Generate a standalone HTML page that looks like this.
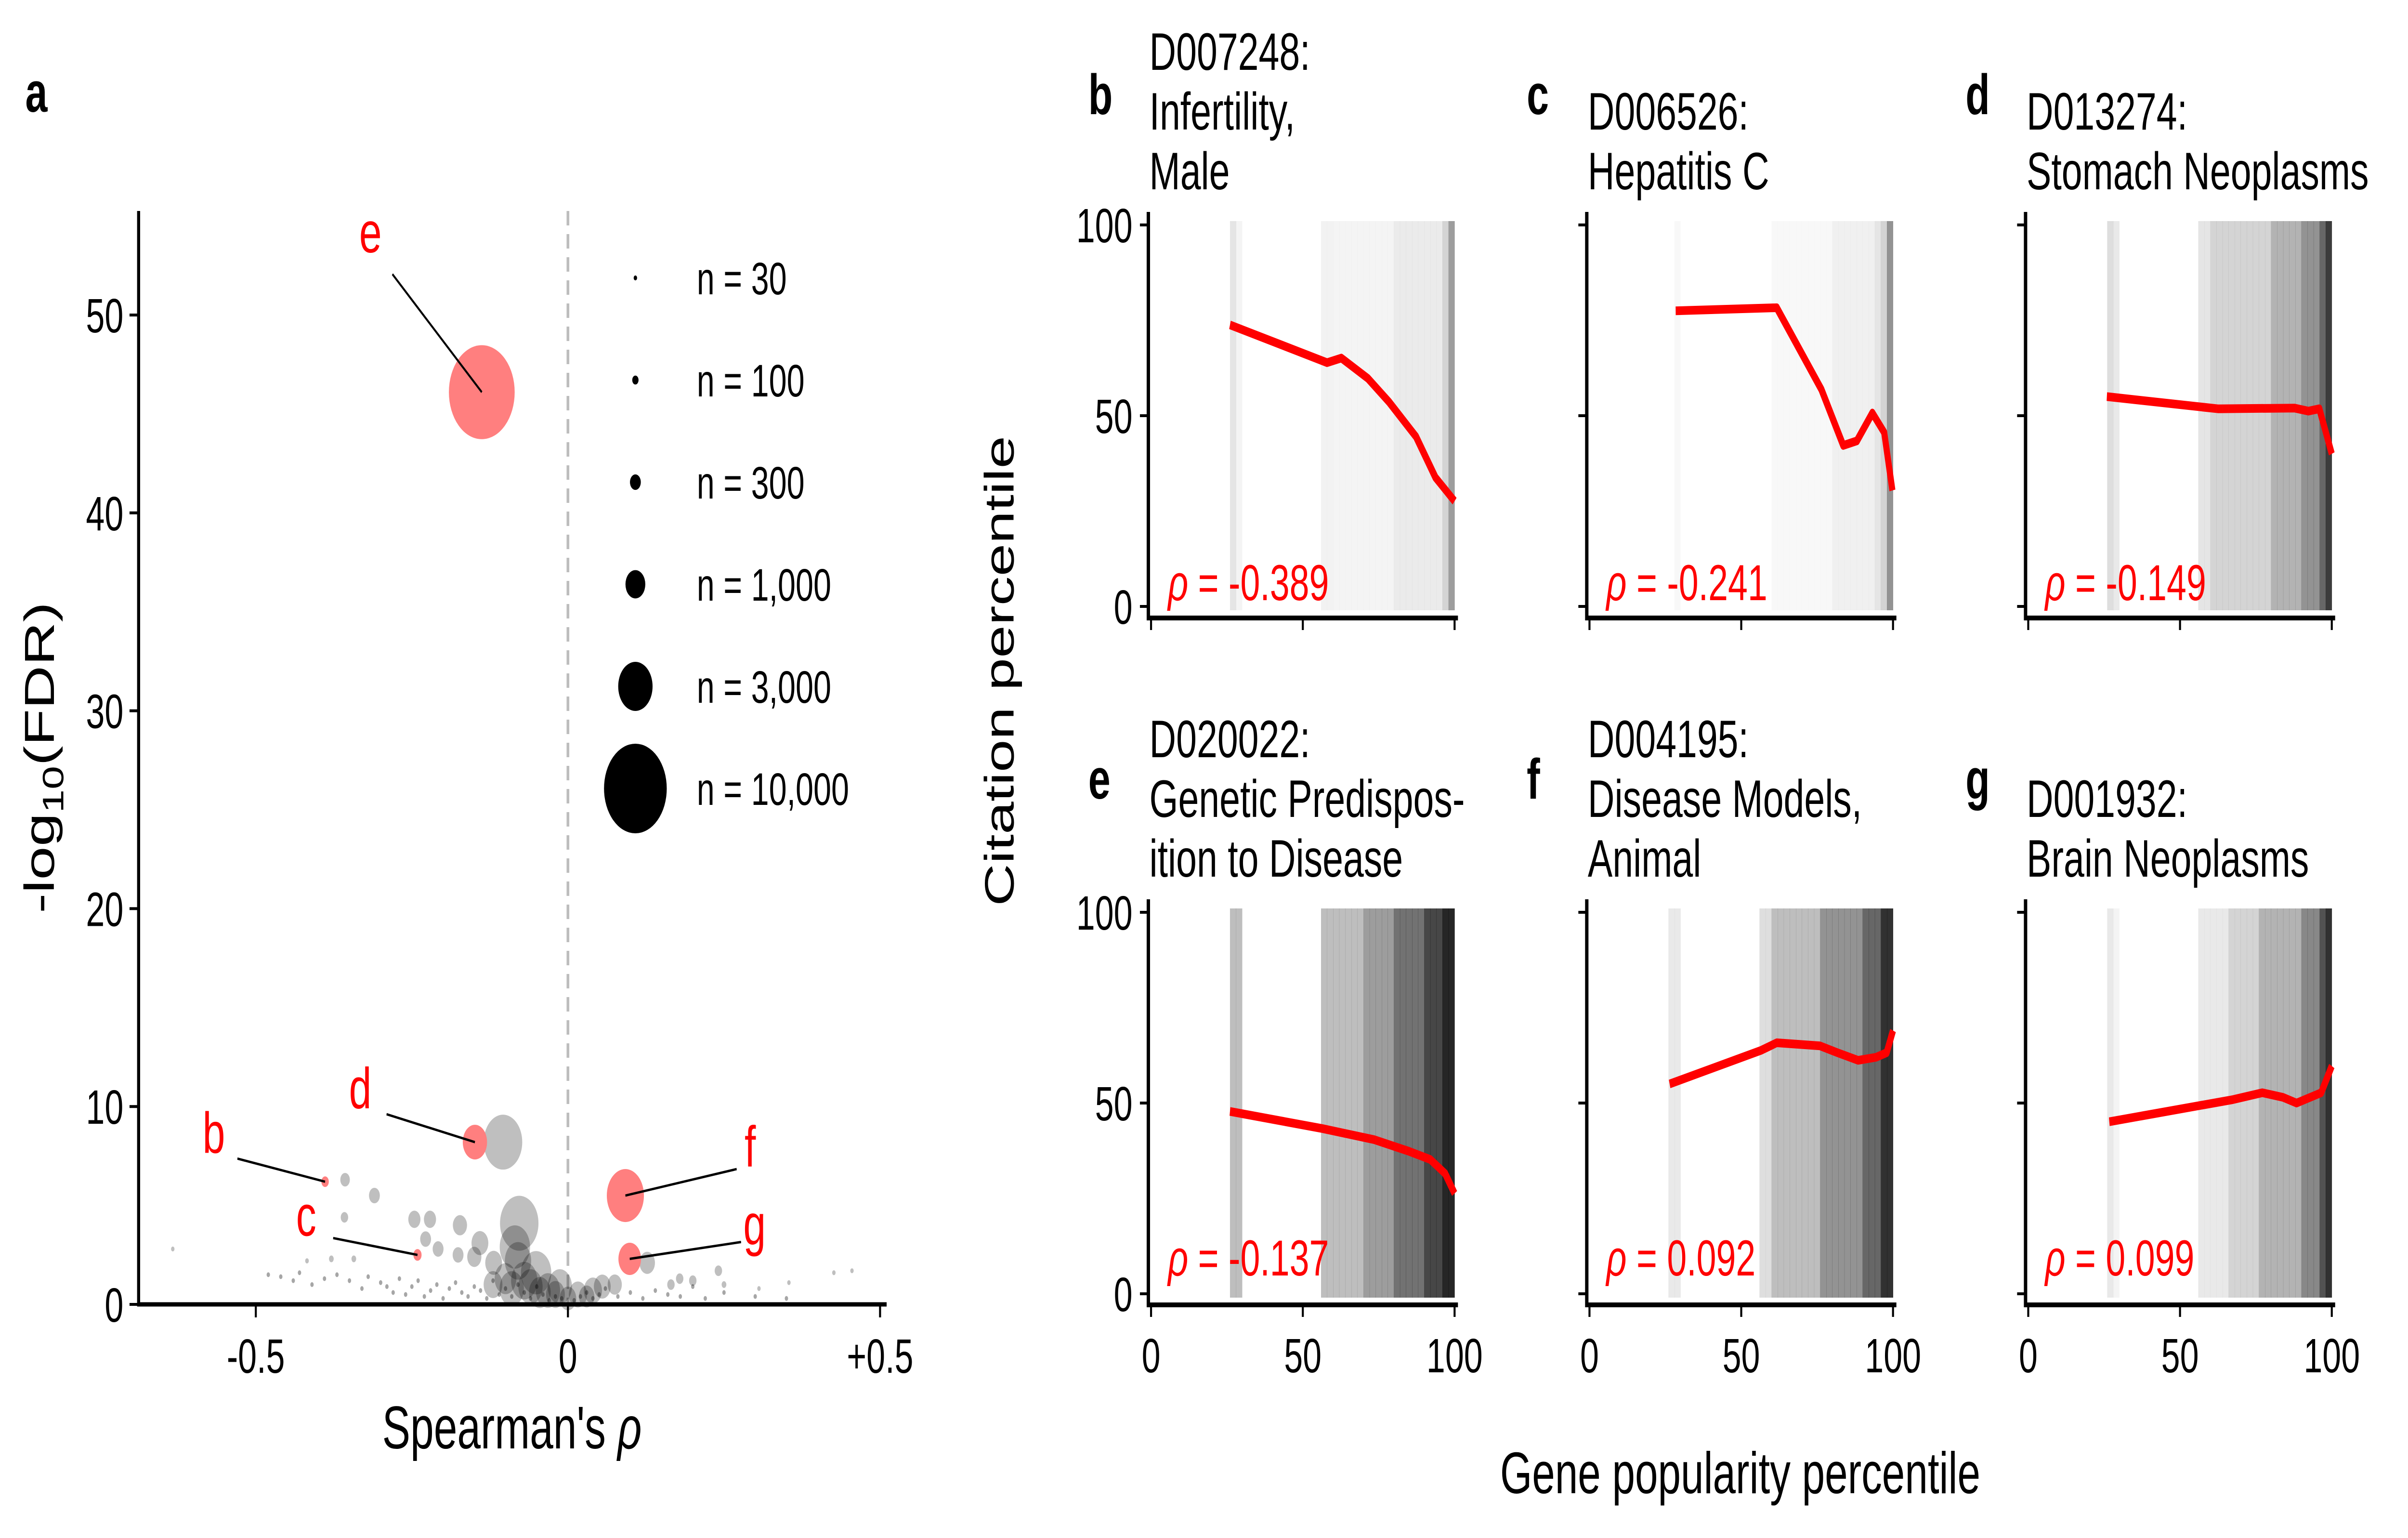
<!DOCTYPE html>
<html><head><meta charset="utf-8"><style>
html,body{margin:0;padding:0;background:#fff;width:100%;height:100%;overflow:hidden;}
svg{display:block;width:100vw;height:100vh;font-family:"Liberation Sans",Arial,sans-serif;}
</style></head><body>
<svg id="fig" viewBox="0 0 7140 3193" preserveAspectRatio="none" xmlns="http://www.w3.org/2000/svg">
<rect x="0" y="0" width="7140" height="3193" fill="#fff"/>
<text x="75" y="232" font-size="118" font-weight="bold">a</text>
<g id="panelA"></g>
<g id="panels"></g>
<text x="5160" y="3100" font-size="122" text-anchor="middle">Gene popularity percentile</text>
<text transform="translate(3005,1393) rotate(-90)" font-size="122" text-anchor="middle">Citation percentile</text>
</svg>
<script>
// ---------- Panel a data ----------
const hlLabels = ['e','d','b','c','f','g'];
const hlRho = [-0.138,-0.149,-0.389,-0.241,0.092,0.099];
const hlFdr = [46.1,8.2,6.2,2.5,5.5,2.3];
const hlN = [11000,1500,140,170,3500,1300];
const grayRho = [-0.104,-0.078,-0.085,-0.080,-0.051,-0.013,-0.357,-0.310,-0.358,-0.246,-0.221,-0.173,-0.228,-0.141,-0.208,-0.176,-0.150,-0.119,0.127,0.241,0.179,0.200,0.165,0.250,-0.379,-0.343,-0.418,-0.633,0.426,0.455,0.354,0.306,0.055,0.075,0.040,0.016,-0.032,-0.060,-0.100,-0.120,-0.070,-0.020,0.000,0.030,-0.045,-0.090];
const grayFdr = [8.2,4.1,2.9,2.2,1.6,0.9,6.3,5.5,4.4,4.3,4.3,4.0,3.3,3.1,2.8,2.5,2.4,2.1,2.1,1.7,1.3,1.2,1.0,1.0,2.3,2.3,2.2,2.8,1.6,1.7,1.1,0.8,0.9,1.0,0.7,0.5,0.7,0.9,1.3,1.0,1.2,0.5,0.3,0.4,0.6,0.8];
const grayN = [3760,3760,2340,1760,2340,1500,230,300,140,375,375,510,300,720,300,300,510,720,610,140,140,140,140,57,57,57,34,30,30,30,30,30,720,510,840,840,1500,1500,1200,900,1760,900,700,600,1200,1500];
const dotRho = [-0.48,-0.46,-0.44,-0.43,-0.41,-0.39,-0.37,-0.35,-0.33,-0.32,-0.30,-0.29,-0.28,-0.27,-0.26,-0.25,-0.24,-0.23,-0.22,-0.21,-0.20,-0.19,-0.18,-0.17,-0.16,-0.15,-0.14,-0.13,-0.12,-0.11,-0.10,-0.09,-0.08,-0.07,-0.06,-0.05,-0.04,-0.03,-0.02,-0.01,0.01,0.02,0.03,0.04,0.05,0.06,0.08,0.10,0.12,0.14,0.16,0.18,0.20,0.22,0.25,0.30,0.35];
const dotFdr = [1.5,1.4,1.2,1.6,1.0,1.3,1.5,1.2,0.8,1.4,1.1,0.9,0.6,1.3,0.5,0.9,1.2,0.4,0.7,1.0,0.3,0.8,1.1,0.6,0.4,0.9,0.7,0.3,1.2,0.5,0.8,0.4,1.0,0.6,0.3,0.9,0.5,0.2,0.4,0.3,0.2,0.4,0.6,0.3,0.5,0.8,0.4,0.6,0.3,0.7,0.5,0.4,0.9,0.3,0.6,0.4,0.3];
const legendN = [30,100,300,1000,3000,10000];
const legendText = ['n = 30','n = 100','n = 300','n = 1,000','n = 3,000','n = 10,000'];
const aYTicks = [0,10,20,30,40,50];
const aXTicks = [-0.5,0,0.5];
const aXTickLabels = ['-0.5','0','+0.5'];

// ---------- Scatter panel data ----------
const panelIds = ['b','c','d','e','f','g'];
const panelTitles = [['D007248:','Infertility,','Male'],['D006526:','Hepatitis C'],['D013274:','Stomach Neoplasms'],['D020022:','Genetic Predispos-','ition to Disease'],['D004195:','Disease Models,','Animal'],['D001932:','Brain Neoplasms']];
const panelRho = ['-0.389','-0.241','-0.149','-0.137','0.092','0.099'];
const curveBx = [26,58,62.7,71.4,78.4,87.3,93.7,100];
const curveBy = [73.8,63.9,65.1,59.8,53.6,44.5,33.8,27.6];
const curveCx = [28.4,61.7,76.4,83.6,88.1,93.2,97.1,99.8];
const curveCy = [77.5,78.3,56.9,42.2,43.4,50.7,45.6,30.4];
const curveDx = [25.9,62.5,87.7,92.3,95.9,100];
const curveDy = [55,51.8,52,51.2,51.8,40];
const curveEx = [26,56.5,73.5,84.8,92,96.9,100];
const curveEy = [47.8,43.3,40.4,37.4,35.2,31.5,26.3];
const curveFx = [26.4,56.5,61.7,75.9,81.7,88.5,94.4,97.9,100];
const curveFy = [55,63.8,65.8,65,63.2,61.2,62,63.2,69];
const curveGx = [26.7,67.4,77.1,83.9,88.4,96.5,100];
const curveGy = [45.1,50.9,52.7,51.5,50,52.7,59.7];
const densB = [0,0,0,0,0,0,0,0,0,0,0,0,0,.12,.05,0,0,0,0,0,0,0,0,0,0,0,0,0,.06,.06,.05,.05,.05,.05,.05,.05,.05,.05,.05,.05,.09,.09,.09,.09,.09,.09,.09,.09,.2,.45];
const densC = [0,0,0,0,0,0,0,0,0,0,0,0,0,0,.03,0,0,0,0,0,0,0,0,0,0,0,0,0,0,0,.03,.03,.03,.03,.03,.03,.03,.03,.03,.03,.07,.07,.07,.07,.07,.07,.07,.12,.2,.5];
const densD = [0,0,0,0,0,0,0,0,0,0,0,0,0,.15,.1,0,0,0,0,0,0,0,0,0,0,0,0,0,.12,.12,.2,.2,.2,.2,.2,.2,.2,.2,.2,.2,.35,.35,.35,.35,.35,.5,.5,.5,.7,.9];
const densE = [0,0,0,0,0,0,0,0,0,0,0,0,0,.3,.3,0,0,0,0,0,0,0,0,0,0,0,0,0,.3,.3,.3,.3,.3,.3,.3,.45,.45,.45,.45,.45,.65,.65,.65,.65,.65,.85,.85,.85,1,1];
const densF = [0,0,0,0,0,0,0,0,0,0,0,0,0,.1,.1,0,0,0,0,0,0,0,0,0,0,0,0,0,.15,.15,.3,.3,.3,.3,.3,.3,.3,.3,.5,.5,.5,.5,.5,.5,.5,.7,.7,.7,.95,.95];
const densG = [0,0,0,0,0,0,0,0,0,0,0,0,0,.1,.05,0,0,0,0,0,0,0,0,0,0,0,0,0,.1,.1,.1,.1,.1,.2,.2,.2,.2,.2,.35,.35,.35,.35,.35,.35,.35,.55,.55,.55,.8,.95];
const pTicks = [0,50,100];

const NS = 'http://www.w3.org/2000/svg';
function mk(tag, attrs, parent){const e=document.createElementNS(NS,tag);for(const k in attrs)e.setAttribute(k,attrs[k]);parent.appendChild(e);return e;}

// ---------- Panel a ----------
const A = document.getElementById('panelA');
const aL=411, aR=2629, aTop=438, aBot=2708;
const ax = r => 1684 + r*1851;
const ay = f => 2708 - f*41.08;
const rad = n => 0.93*Math.sqrt(n);
let el;
el = mk('line',{x1:ax(0),y1:aTop,x2:ax(0),y2:aBot,stroke:'#bdbdbd','stroke-width':8,'stroke-dasharray':'30,18'},A);


for(let i=0;i<dotRho.length;i++){
  el = mk('circle',{cx:ax(dotRho[i]),cy:ay(dotFdr[i]),r:5,fill:'#000','fill-opacity':0.35},A);
  
  
}
for(let i=0;i<grayRho.length;i++){
  el = mk('circle',{cx:ax(grayRho[i]),cy:ay(grayFdr[i]),r:rad(grayN[i]),fill:'#000','fill-opacity':0.25},A);
  
  
}
const lblOff = {e:[-330,-290,-265,-245],d:[-340,-70,-262,-58],b:[-330,-60,-260,-48],c:[-330,-40,-250,-35],f:[370,-60,330,-55],g:[370,-30,330,-35]};
for(let i=0;i<hlRho.length;i++){
  const cx=ax(hlRho[i]), cy=ay(hlFdr[i]);
  el = mk('circle',{cx:cx,cy:cy,r:rad(hlN[i]),fill:'#ff7f7f'},A);
  
  
  const o = lblOff[hlLabels[i]];
  el = mk('line',{x1:cx+o[2],y1:cy+o[3],x2:cx,y2:cy,stroke:'#000','stroke-width':5},A);
  
  
  el = mk('text',{x:cx+o[0],y:cy+o[1],'font-size':120,fill:'#ff0000','text-anchor':'middle'},A);
  el.textContent = hlLabels[i];
  
  
}
for(let i=0;i<legendN.length;i++){
  const y=577+i*212;
  el = mk('circle',{cx:1884,cy:y,r:rad(legendN[i]),fill:'#000'},A);
  
  
  el = mk('text',{x:2066,y:y+34,'font-size':95},A);
  el.textContent = legendText[i];
  
  
}
el = mk('path',{d:`M${aL},${aTop} V${aBot} H${aR}`,fill:'none',stroke:'#000','stroke-width':9},A);


for(const t of aYTicks){
  el = mk('line',{x1:aL-27,y1:ay(t),x2:aL,y2:ay(t),stroke:'#000','stroke-width':6},A);
  
  
  el = mk('text',{x:aL-45,y:ay(t)+36,'font-size':100,'text-anchor':'end'},A);
  el.textContent = t;
  
  
}
for(let i=0;i<aXTicks.length;i++){
  const x=ax(aXTicks[i]);
  el = mk('line',{x1:x,y1:aBot,x2:x,y2:aBot+27,stroke:'#000','stroke-width':6},A);
  
  
  el = mk('text',{x:x,y:2850,'font-size':100,'text-anchor':'middle'},A);
  el.textContent = aXTickLabels[i];
  
  
}
el = mk('text',{x:1518,y:3007,'font-size':125,'text-anchor':'middle'},A);
el.innerHTML = "Spearman's <tspan font-style='italic'>ρ</tspan>";


el = mk('text',{transform:'translate(160,1573) rotate(-90)','font-size':125,'text-anchor':'middle'},A);
el.innerHTML = "-log<tspan font-size='88' dy='28'>10</tspan><tspan dy='-28'>(FDR)</tspan>";



// ---------- Scatter panels ----------
const P = document.getElementById('panels');
const curvesX=[curveBx,curveCx,curveDx,curveEx,curveFx,curveGx];
const curvesY=[curveBy,curveCy,curveDy,curveEy,curveFy,curveGy];
const dens=[densB,densC,densD,densE,densF,densG];
for(let p=0;p<6;p++){
  const col=p%3, row=Math.floor(p/3);
  const x0=[3413,4713,6014][col], x1=x0+900;
  const y100=row?1894:467, y0=row?2686:1259, axY=row?2709:1283, spTop=row?1867:440;
  const px=v=>x0+v*(x1-x0)/100, py=v=>y0-v*(y0-y100)/100;
  const g=mk('g',{},P);
  
  
  const d=dens[p];
  for(let i=0;i<d.length;i++){
    if(!d[i]) continue;
    el=mk('rect',{x:px(i*2),y:py(100)-8,width:px(i*2+2)-px(i*2)+0.5,height:py(0)-py(100)+16,fill:'#000','fill-opacity':d[i]*0.85},g);
    
    
  }
  const cx=curvesX[p], cy=curvesY[p];
  let dd='';
  for(let i=0;i<cx.length;i++) dd+=(i?'L':'M')+px(cx[i]).toFixed(1)+','+py(cy[i]).toFixed(1);
  el=mk('path',{d:dd,fill:'none',stroke:'#ff0000','stroke-width':18,'stroke-linejoin':'round'},g);
  
  
  el=mk('path',{d:`M${x0-8},${spTop} V${axY} H${x1+10}`,fill:'none',stroke:'#000','stroke-width':10},g);
  
  
  for(const t of pTicks){
    el=mk('line',{x1:x0-33,y1:py(t),x2:x0-8,y2:py(t),stroke:'#000','stroke-width':6},g);
    
    
    el=mk('line',{x1:px(t),y1:axY,x2:px(t),y2:axY+25,stroke:'#000','stroke-width':6},g);
    
    
    if(col===0){
      el=mk('text',{x:x0-55,y:py(t)+36,'font-size':100,'text-anchor':'end'},g);
      el.textContent=t;
      
      
    }
    if(row===1){
      el=mk('text',{x:px(t),y:axY+140,'font-size':100,'text-anchor':'middle'},g);
      el.textContent=t;
      
      
    }
  }
  el=mk('text',{x:x0+50,y:row?2648:1246,'font-size':105,fill:'#ff0000'},g);
  el.innerHTML="<tspan font-style='italic'>ρ</tspan> = "+panelRho[p];
  
  
  const lines=panelTitles[p], lastBase=row?1820:393;
  for(let i=0;i<lines.length;i++){
    el=mk('text',{x:x0-5,y:lastBase-(lines.length-1-i)*124,'font-size':110},g);
    el.textContent=lines[i];
    
    
  }
  el=mk('text',{x:x0-186,y:row?1658:237,'font-size':118,'font-weight':'bold'},g);
  el.textContent=panelIds[p];
  
  
}
</script>
</body></html>
